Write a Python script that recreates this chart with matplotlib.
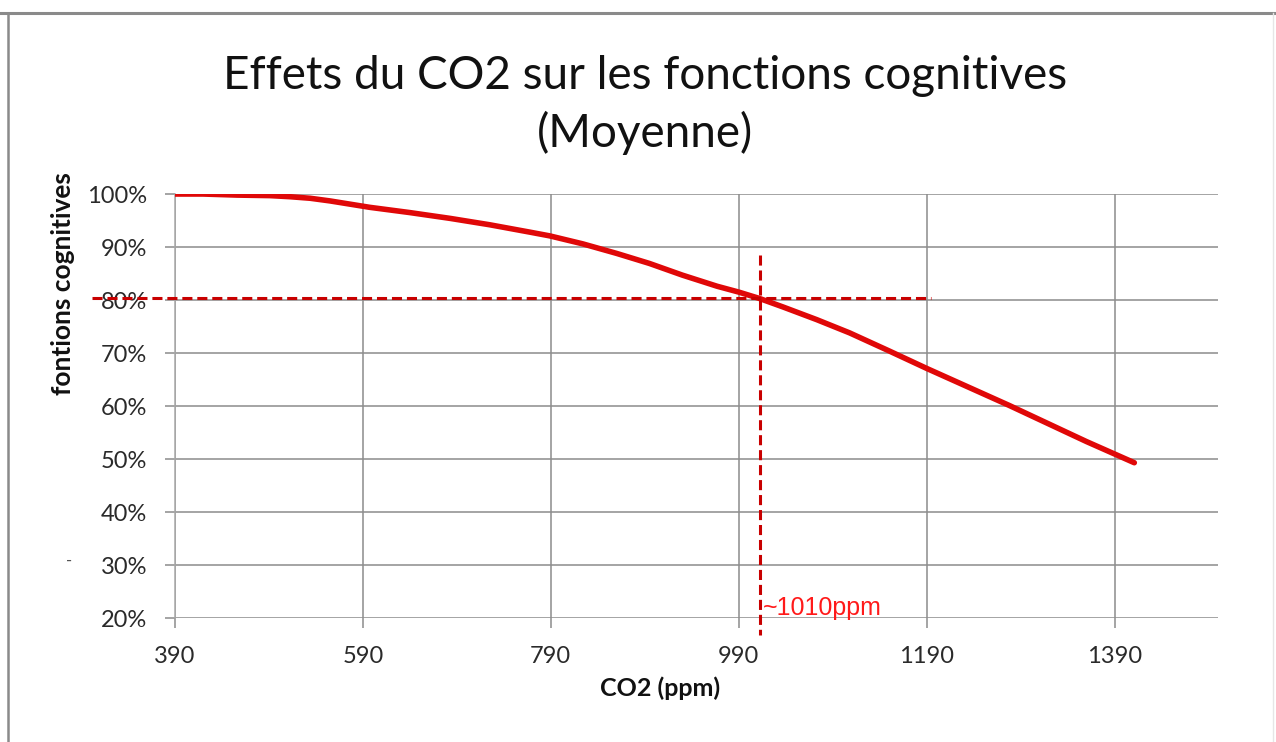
import matplotlib.pyplot as plt
from matplotlib.lines import Line2D
from matplotlib.ticker import PercentFormatter

# data
co2 = [390, 420, 456, 491, 512, 534, 555, 576, 597, 640, 683, 725, 768, 789,
       824, 860, 895, 930, 967, 990, 1012, 1037, 1073, 1108, 1150, 1190, 1278, 1360, 1411]
cognition = [1.0, 1.0, 0.998, 0.997, 0.995, 0.992, 0.987, 0.981, 0.975, 0.965, 0.954,
             0.942, 0.928, 0.921, 0.906, 0.888, 0.869, 0.847, 0.826, 0.815, 0.803,
             0.787, 0.763, 0.738, 0.704, 0.671, 0.601, 0.533, 0.493]
x_ticks = [390, 590, 790, 990, 1190, 1390]
y_ticks = [0.2, 0.3, 0.4, 0.5, 0.6, 0.7, 0.8, 0.9, 1.0]
marker_ppm = 1013
marker_level = 0.804

plt.rcParams['font.family'] = ['Lato', 'DejaVu Sans']

fig = plt.figure(figsize=(12.76, 7.42), dpi=100)
ax = fig.add_axes([0.1371, 0.1671, 0.8174, 0.5714])

ax.plot(co2, cognition, color='#e00808', lw=4, solid_capstyle='round',
        solid_joinstyle='round', zorder=3)

ax.set_xlim(390, 1500)
ax.set_ylim(0.2, 1.0)
ax.set_xticks(x_ticks)
ax.set_yticks(y_ticks)
ax.yaxis.set_major_formatter(PercentFormatter(1.0, decimals=0))
ax.grid(True, color='#8c8c8c', lw=1.1)
for s in ['top', 'right', 'bottom']:
    ax.spines[s].set_visible(False)
ax.spines['left'].set_color('#a8a8a8')
ax.spines['left'].set_linewidth(1.1)
ax.tick_params(axis='both', length=7, width=1.1, color='#8c8c8c',
               labelsize=17, labelcolor='#2a2a2a')
ax.tick_params(axis='y', pad=13)
ax.tick_params(axis='x', pad=13)

# axis titles (Excel places them off-centre)
fig.text(0.0494, 0.618, 'fontions cognitives', rotation=90, ha='center', va='center',
         fontsize=19, fontweight='bold', color='#111111')
fig.text(0.517, 0.073, 'CO2 (ppm)', ha='center', va='center',
         fontsize=18, fontweight='bold', color='#111111')

# dashed guide lines (go beyond the plot area)
dash = dict(color='#c80000', lw=2.2, dashes=(3.3, 1.6), clip_on=False, zorder=4)
ax.plot([302, 1195], [marker_level, marker_level], **dash)
ax.plot([marker_ppm, marker_ppm], [0.885, 0.168], **dash)
ax.text(marker_ppm + 3, 0.218, '~1010ppm', color='#ff1a1a', fontsize=18,
        family='Liberation Sans', va='center', ha='left')

fig.text(0.5055, 0.898, 'Effets du CO2 sur les fonctions cognitives', ha='center',
         va='center', fontsize=33, color='#111111')
fig.text(0.5055, 0.821, '(Moyenne)', ha='center', va='center', fontsize=33, color='#111111')
fig.text(0.052, 0.238, '-', fontsize=12, color='#555555')

# outer frame of the screenshot
fig.add_artist(Line2D([0, 1], [0.982, 0.982], color='#8a8a8a', lw=2.2, transform=fig.transFigure))
fig.add_artist(Line2D([0.0065, 0.0065], [0, 0.982], color='#8a8a8a', lw=1.8, transform=fig.transFigure))
fig.add_artist(Line2D([0.998, 0.998], [0, 0.982], color='#e6e6e6', lw=1.0, transform=fig.transFigure))

fig.savefig('out.png', dpi=100)
